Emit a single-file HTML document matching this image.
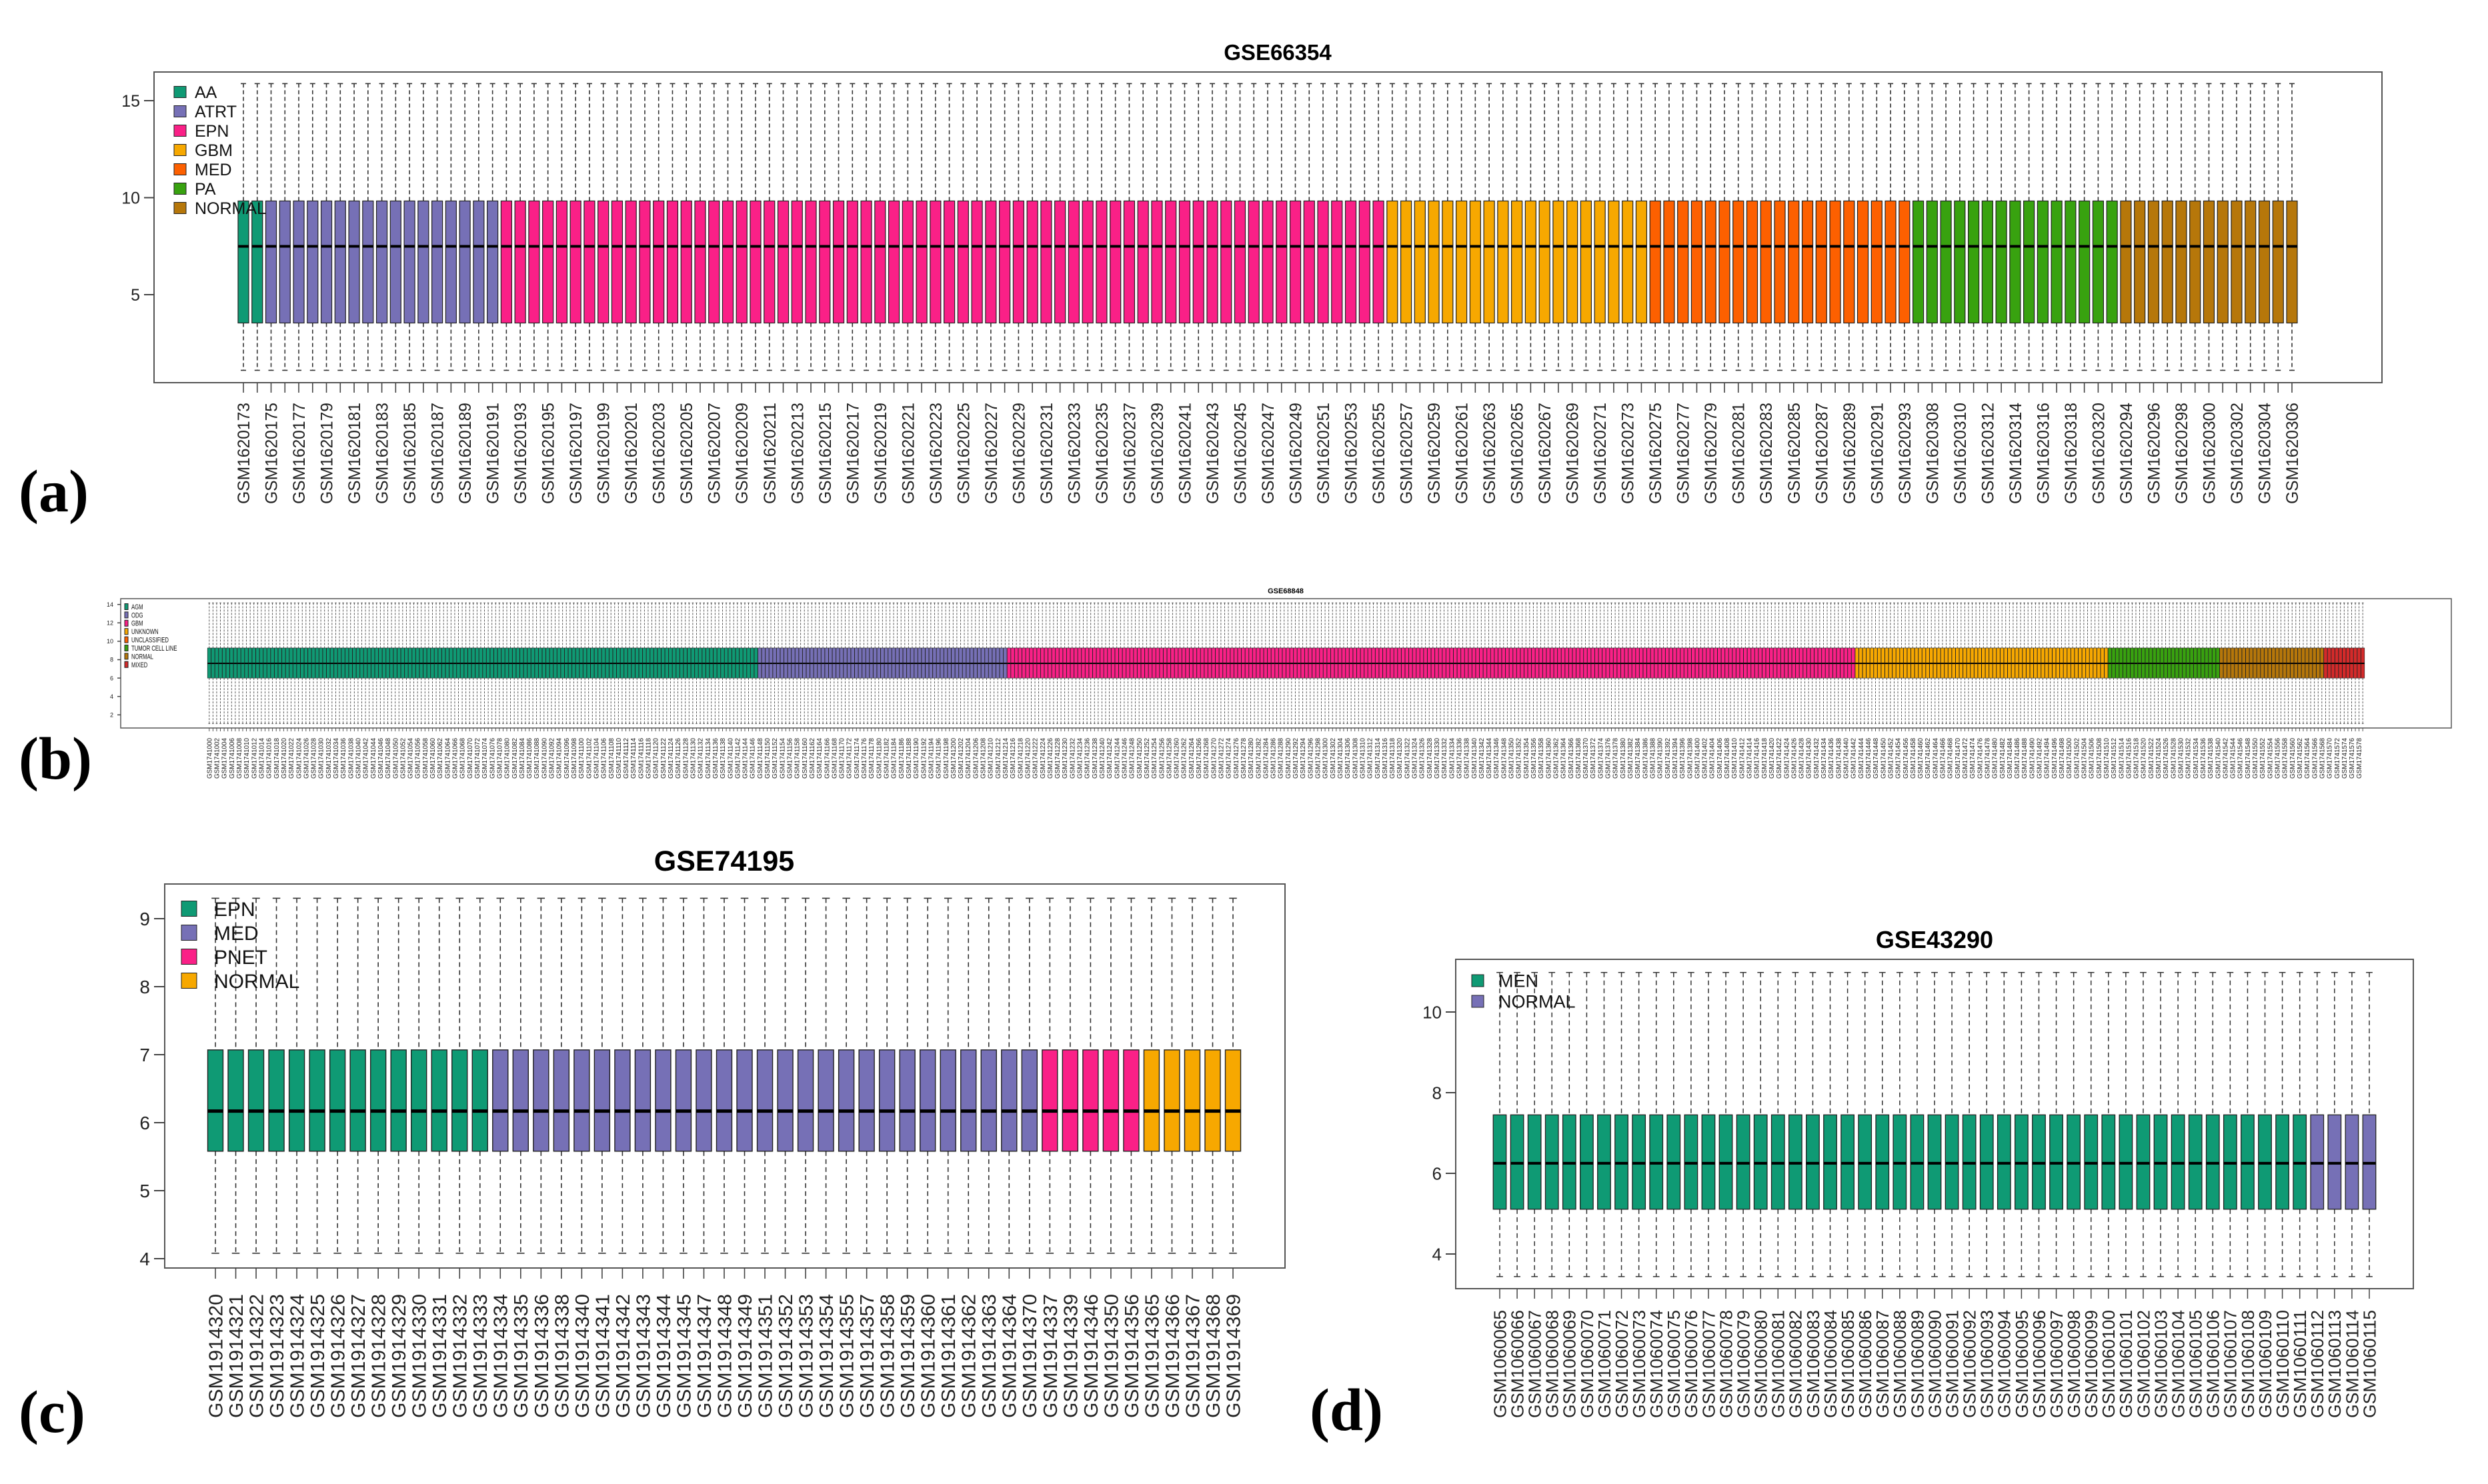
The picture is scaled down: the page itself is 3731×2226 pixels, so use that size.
<!DOCTYPE html>
<html><head><meta charset="utf-8"><title>Boxplots</title>
<style>
html,body{margin:0;padding:0;background:#fff;}
svg{display:block;}
text{font-family:"Liberation Sans",Arial,sans-serif;}
.lt{font-family:"Liberation Serif",serif;font-weight:bold;}
</style></head>
<body>
<svg id="fig" width="3731" height="2226" viewBox="0 0 3731 2226" xmlns="http://www.w3.org/2000/svg">
<rect x="0" y="0" width="3731" height="2226" fill="#fff"/>
<text class="lt" x="28" y="767" font-size="90">(a)</text>
<text class="lt" x="28" y="1168" font-size="90">(b)</text>
<text class="lt" x="28" y="2148" font-size="90">(c)</text>
<text class="lt" x="1964" y="2145" font-size="90">(d)</text>
</svg>
<script>
// ---------- Panel (a) GSE66354 ----------
const aGroups = ["AA","ATRT","EPN","GBM","MED","PA","NORMAL"];
const aCounts = [2,17,64,19,19,15,13];
const aColors = ["#0f9a74","#7670b6","#fa2087","#f7a800","#fd6000","#38a20f","#b6770a"];
const aLow = [1.1,1.1,1.1,1.1,1.1,1.1,1.1];
const aQ1 = [3.54,3.54,3.54,3.54,3.54,3.54,3.54];
const aMed = [7.49,7.49,7.49,7.49,7.49,7.49,7.49];
const aQ3 = [9.83,9.83,9.83,9.83,9.83,9.83,9.83];
const aHigh = [15.88,15.88,15.88,15.88,15.88,15.88,15.88];
const aIdRanges = [[173,293],[307,321],[294,306]];
const aTicks = [5,10,15];

// ---------- Panel (b) GSE68848 ----------
const bGroups = ["AGM","ODG","GBM","UNKNOWN","UNCLASSIFIED","TUMOR CELL LINE","NORMAL","MIXED"];
const bCounts = [148,67,228,68,0,30,28,11];
const bColors = ["#0f9a74","#7670b6","#fa2087","#f7a800","#fd6000","#38a20f","#b6770a","#d42a2a"];
const bLow = [1.06,1.06,1.06,1.06,1.06,1.06,1.06,1.06];
const bQ1 = [6.0,6.0,6.0,6.0,6.0,6.0,6.0,6.0];
const bMed = [7.6,7.6,7.6,7.6,7.6,7.6,7.6,7.6];
const bQ3 = [9.27,9.27,9.27,9.27,9.27,9.27,9.27,9.27];
const bHigh = [14.17,14.17,14.17,14.17,14.17,14.17,14.17,14.17];
const bIdRanges = [[1741000,1741579]];
const bTicks = [2,4,6,8,10,12,14];

// ---------- Panel (c) GSE74195 ----------
const cGroups = ["EPN","MED","PNET","NORMAL"];
const cCounts = [14,27,5,5];
const cColors = ["#0f9a74","#7670b6","#fa2087","#f7a800"];
const cLow = [4.08,4.08,4.08,4.08];
const cQ1 = [5.58,5.58,5.58,5.58];
const cMed = [6.17,6.17,6.17,6.17];
const cQ3 = [7.07,7.07,7.07,7.07];
const cHigh = [9.3,9.3,9.3,9.3];
const cIds = [4320,4321,4322,4323,4324,4325,4326,4327,4328,4329,4330,4331,4332,4333,
 4334,4335,4336,4338,4340,4341,4342,4343,4344,4345,4347,4348,4349,4351,4352,4353,4354,4355,4357,4358,4359,4360,4361,4362,4363,4364,4370,
 4337,4339,4346,4350,4356,4365,4366,4367,4368,4369];
const cTicks = [4,5,6,7,8,9];

// ---------- Panel (d) GSE43290 ----------
const dGroups = ["MEN","NORMAL"];
const dCounts = [47,4];
const dColors = ["#0f9a74","#7670b6"];
const dLow = [3.44,3.44];
const dQ1 = [5.11,5.11];
const dMed = [6.25,6.25];
const dQ3 = [7.45,7.45];
const dHigh = [10.98,10.98];
const dIdRanges = [[1060065,1060115]];
const dTicks = [4,6,8,10];

const NS = "http://www.w3.org/2000/svg";
const svg = document.getElementById("fig");
function mk(tag, attrs, parent){
  const e = document.createElementNS(NS, tag);
  for (const k in attrs) e.setAttribute(k, attrs[k]);
  (parent||svg).appendChild(e);
  return e;
}
function idsFromRanges(r, prefix){
  const out=[];
  r.forEach(([s,e])=>{for(let i=s;i<=e;i++) out.push(prefix+i);});
  return out;
}

function drawPanel(p){
  const g = mk("g",{});
  
  
  const yScale = v => p.yA[1] + (v - p.yA[0]) * (p.yB[1]-p.yA[1])/(p.yB[0]-p.yA[0]);
  const n = p.counts.reduce((a,b)=>a+b,0);
  const spacing = (p.xLast - p.xFirst)/(n-1);
  const xScale = i => p.xFirst + i*spacing;
  const fr = mk("rect",{x:p.box[0],y:p.box[1],width:p.box[2]-p.box[0],height:p.box[3]-p.box[1],fill:"none",stroke:"#555","stroke-width":p.frameW},g);
  
  
  const t = mk("text",{x:p.title[1],y:p.title[2],"font-size":p.title[3],"font-weight":"bold","text-anchor":"middle"},g);
  t.textContent = p.title[0];
  
  
  p.ticks.forEach(v=>{
    const y = yScale(v);
    const tl = mk("line",{x1:p.box[0]-p.tickLen,x2:p.box[0],y1:y,y2:y,stroke:"#444","stroke-width":p.frameW},g);
    
    
    const tx = mk("text",{x:p.box[0]-p.tickLen-6,y:y+p.yFont*0.36,"font-size":p.yFont,"text-anchor":"end",fill:"#222"},g);
    tx.textContent = v;
    
    
  });
  let idx=0;
  p.counts.forEach((cnt,gi)=>{
    for(let k=0;k<cnt;k++,idx++){
      const x = xScale(idx), hw = p.boxW/2;
      const sg = mk("g",{},g);
      
      
      const yl=yScale(p.low[gi]), yq1=yScale(p.q1[gi]), ym=yScale(p.med[gi]), yq3=yScale(p.q3[gi]), yh=yScale(p.high[gi]);
      const w1 = mk("line",{x1:x,x2:x,y1:yh,y2:yq3,stroke:p.whiskCol,"stroke-width":p.whW,"stroke-dasharray":p.dash},sg);
      
      
      const w2 = mk("line",{x1:x,x2:x,y1:yq1,y2:yl,stroke:p.whiskCol,"stroke-width":p.whW,"stroke-dasharray":p.dash},sg);
      
      
      const c1 = mk("line",{x1:x-hw*0.5,x2:x+hw*0.5,y1:yh,y2:yh,stroke:"#333","stroke-width":p.whW},sg);
      
      
      const c2 = mk("line",{x1:x-hw*0.5,x2:x+hw*0.5,y1:yl,y2:yl,stroke:"#333","stroke-width":p.whW},sg);
      
      
      const r = mk("rect",{x:x-hw,y:yq3,width:p.boxW,height:yq1-yq3,fill:p.colors[gi],stroke:"#222","stroke-width":p.boxStroke},sg);
      
      
      const m = mk("line",{x1:x-hw,x2:x+hw,y1:ym,y2:ym,stroke:"#000","stroke-width":p.medW},sg);
      
      
      const xt = mk("line",{x1:x,x2:x,y1:p.box[3],y2:p.box[3]+p.tickLen,stroke:"#444","stroke-width":p.whW},g);
      
      
      if(idx % p.labelEvery === 0){
        const ly = p.labelTop;
        const lb = mk("text",{x:x+p.xFont*0.36,y:ly,"font-size":p.xFont,"text-anchor":"end",fill:"#222",transform:`rotate(-90 ${x+p.xFont*0.36} ${ly})`},g);
        if(p.labelLen){lb.setAttribute("textLength",p.labelLen);lb.setAttribute("lengthAdjust","spacingAndGlyphs");}
        lb.textContent = p.ids[idx];
        
        
      }
    }
  });
  p.groups.forEach((name,gi)=>{
    const y = p.leg.y0 + gi*p.leg.dy;
    const lg = mk("g",{},g);
    
    
    const s = mk("rect",{x:p.leg.x,y:y-p.leg.sh/2,width:p.leg.sw,height:p.leg.sh,fill:p.colors[gi],stroke:"#222","stroke-width":1},lg);
    
    
    const tx = mk("text",{x:p.leg.tx,y:y+p.leg.fs*0.36,"font-size":p.leg.fs,fill:"#111"},lg);
    if(p.leg.cond) tx.setAttribute("transform",`translate(${p.leg.tx} 0) scale(0.7 1) translate(${-p.leg.tx} 0)`);
    tx.textContent = name;
    
    
  });
}

drawPanel({name:"panel-a-gse66354",groups:aGroups,counts:aCounts,colors:aColors,low:aLow,q1:aQ1,med:aMed,q3:aQ3,high:aHigh,
  ids:idsFromRanges(aIdRanges,"GSM1620"),ticks:aTicks,box:[231,108,3572,574],frameW:2,
  yA:[5,442],yB:[15,151],xFirst:365,xLast:3437,boxW:16,boxStroke:1.2,medW:4,whW:1.6,dash:"6 4",whiskCol:"#333",
  tickLen:15,yFont:25,xFont:25,labelTop:604,labelLen:152,labelEvery:2,
  title:["GSE66354",1916,90,33],leg:{x:261,y0:138,dy:29,sw:18,sh:17,tx:292,fs:25}});

drawPanel({name:"panel-b-gse68848",groups:bGroups,counts:bCounts,colors:bColors,low:bLow,q1:bQ1,med:bMed,q3:bQ3,high:bHigh,
  ids:idsFromRanges(bIdRanges,"GSM"),ticks:bTicks,box:[181,898,3676,1092],frameW:1.5,
  yA:[2,1072.3],yB:[14,906.7],xFirst:313.8,xLast:3543.2,boxW:5.2,boxStroke:0.6,medW:2,whW:0.9,dash:"3 2",whiskCol:"#444",
  tickLen:5,yFont:9,xFont:10,labelTop:1107,labelLen:61,labelEvery:2,
  title:["GSE68848",1928,890,11],leg:{x:187,y0:910,dy:12.4,sw:5,sh:9,tx:197,fs:11,cond:true}});

drawPanel({name:"panel-c-gse74195",groups:cGroups,counts:cCounts,colors:cColors,low:cLow,q1:cQ1,med:cMed,q3:cQ3,high:cHigh,
  ids:cIds.map(v=>"GSM191"+v),ticks:cTicks,box:[247,1326,1927,1902],frameW:2,
  yA:[4,1888],yB:[9,1378],xFirst:323,xLast:1849,boxW:23,boxStroke:1.4,medW:5,whW:1.6,dash:"7 5",whiskCol:"#333",
  tickLen:16,yFont:28,xFont:29,labelTop:1941,labelLen:186,labelEvery:1,
  title:["GSE74195",1086,1306,43],leg:{x:272,y0:1363,dy:36,sw:23,sh:23,tx:321,fs:30}});

drawPanel({name:"panel-d-gse43290",groups:dGroups,counts:dCounts,colors:dColors,low:dLow,q1:dQ1,med:dMed,q3:dQ3,high:dHigh,
  ids:idsFromRanges(dIdRanges,"GSM"),ticks:dTicks,box:[2183,1439,3619,1933],frameW:2,
  yA:[4,1881],yB:[10,1518],xFirst:2249,xLast:3553,boxW:19.5,boxStroke:1.3,medW:4,whW:1.5,dash:"7 5",whiskCol:"#333",
  tickLen:15,yFont:26,xFont:26,labelTop:1965,labelLen:162,labelEvery:1,
  title:["GSE43290",2901,1422,36],leg:{x:2207,y0:1471,dy:31,sw:18,sh:18,tx:2247,fs:27}});
</script>
</body></html>
